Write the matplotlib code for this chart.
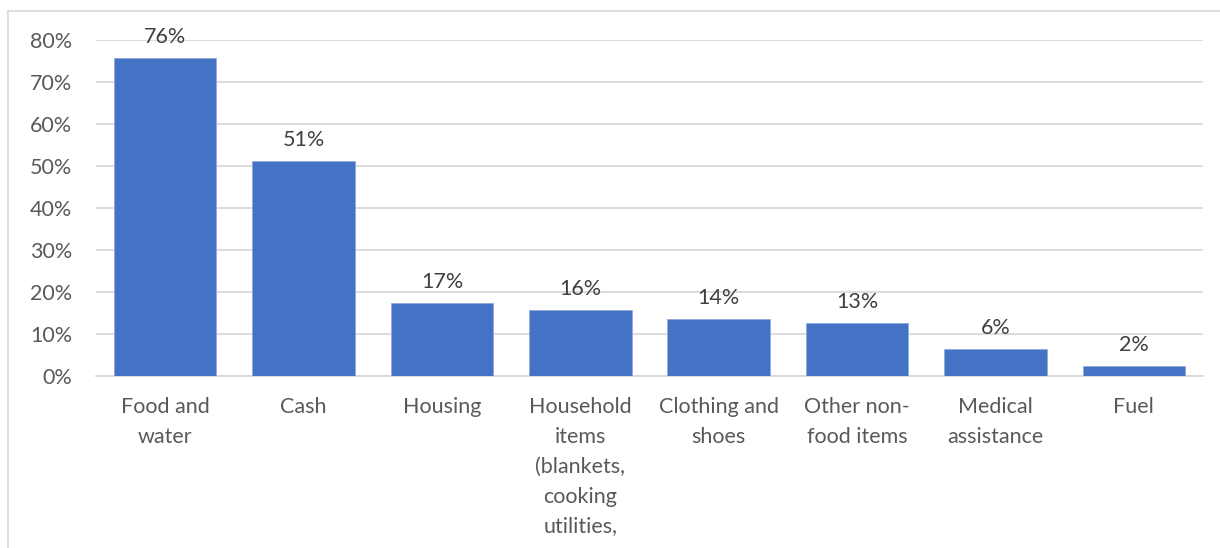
import matplotlib
matplotlib.use("Agg")
import matplotlib.pyplot as plt
from matplotlib.lines import Line2D
from matplotlib.ticker import FuncFormatter, MultipleLocator

categories = ["Food and\nwater", "Cash", "Housing",
              "Household\nitems\n(blankets,\ncooking\nutilities,",
              "Clothing and\nshoes", "Other non-\nfood items",
              "Medical\nassistance", "Fuel"]
values = [0.757, 0.512, 0.174, 0.156, 0.136, 0.126, 0.064, 0.024]
labels = ["76%", "51%", "17%", "16%", "14%", "13%", "6%", "2%"]

plt.rcParams['font.family'] = ['Lato', 'DejaVu Sans']
W, H = 1220, 548
fig = plt.figure(figsize=(W / 100, H / 100), dpi=100)
ax = fig.add_axes([96 / W, (H - 376) / H, (1203 - 96) / W, (376 - 40) / H])

x = list(range(len(categories)))
bars = ax.bar(x, values, width=0.74, color="#4472C4", edgecolor="#8FAADC", linewidth=0.6, zorder=3)
for xi, v, lab in zip(x, values, labels):
    ax.annotate(lab, (xi, v), xytext=(0, 8), textcoords="offset points",
                ha="center", va="bottom", fontsize=15.5, color="#404040")

ax.set_xlim(-0.5, len(categories) - 0.5)
ax.set_ylim(0, 0.8)
ax.yaxis.set_major_locator(MultipleLocator(0.1))
ax.yaxis.set_major_formatter(FuncFormatter(lambda v, p: f"{v*100:.0f}%"))
ax.grid(axis="y", color="#D9D9D9", linewidth=1.3, zorder=0)
ax.set_axisbelow(True)
for s in ["top", "right", "left"]:
    ax.spines[s].set_visible(False)
ax.spines["bottom"].set_color("#D9D9D9")
ax.spines["bottom"].set_linewidth(1.3)
ax.set_xticks(x)
ax.set_xticklabels(categories, linespacing=1.62)
ax.tick_params(axis="both", length=0, labelsize=15.5, colors="#595959")
ax.tick_params(axis="x", pad=15)
ax.tick_params(axis="y", pad=17)

fig.add_artist(Line2D([8 / W, 8 / W], [0, (H - 11) / H], color="#D9D9D9", linewidth=1.2, transform=fig.transFigure))
fig.add_artist(Line2D([8 / W, 1], [(H - 11) / H, (H - 11) / H], color="#D9D9D9", linewidth=1.2, transform=fig.transFigure))

fig.savefig("out.png", dpi=100, facecolor="white")
